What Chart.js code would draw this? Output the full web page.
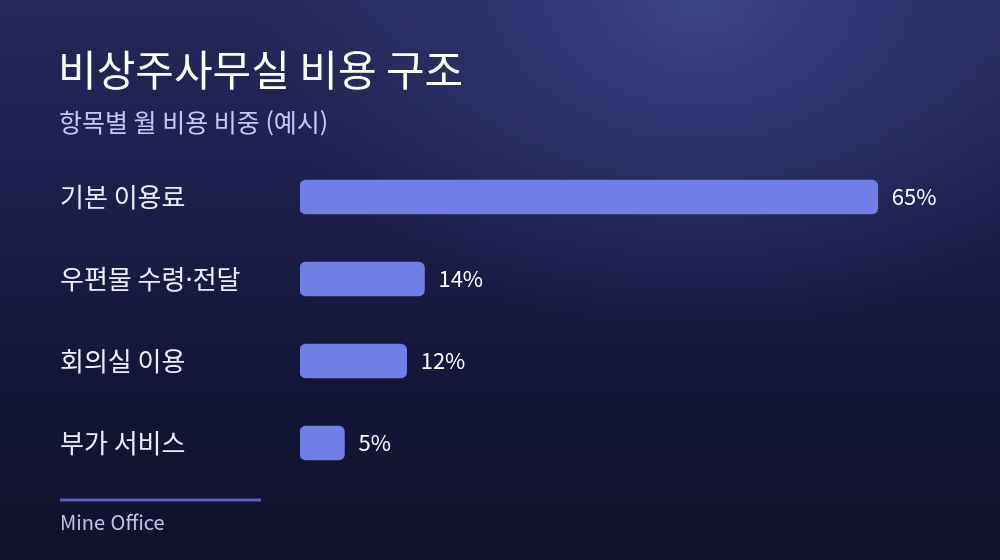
<!DOCTYPE html>
<html lang="ko">
<head>
<meta charset="utf-8">
<script src="https://cdn.jsdelivr.net/npm/chart.js@4"></script>
<style>
  html, body { margin: 0; padding: 0; }
  body {
    width: 1000px; height: 560px; overflow: hidden;
    background:
      radial-gradient(ellipse 60% 80% at 70% 0%, rgba(62, 70, 140, 0.95) 0%, rgba(50, 56, 118, 0.6) 35%, rgba(30, 33, 75, 0) 75%),
      linear-gradient(180deg, #24285b 0%, #1c1f4a 35%, #14163a 65%, #10122a 100%);
  }
  #wrap { position: relative; width: 1000px; height: 560px; }
</style>
</head>
<body>
<div id="wrap"><canvas id="myChart"></canvas></div>
<script>
var categories = ['기본 이용료', '우편물 수령·전달', '회의실 이용', '부가 서비스'];
var shares = [65, 14, 12, 5];

var titleText = '비상주사무실 비용 구조';
var subtitleText = '항목별 월 비용 비중 (예시)';
var sourceText = 'Mine Office';

var FONT = "'Noto Sans CJK KR', 'Noto Sans', sans-serif";

// title, subtitle, footer line and source
var decor = {
    id: 'decor',
    afterDraw: function (chart) {
        var c = chart.ctx;
        c.save();
        c.textAlign = 'left';
        c.textBaseline = 'middle';
        c.fillStyle = '#ffffff';
        c.font = '400 42px ' + FONT;
        c.fillText(titleText, 58, 70);
        c.fillStyle = '#c6caf2';
        c.font = '400 25px ' + FONT;
        c.fillText(subtitleText, 59, 122);
        c.strokeStyle = '#5a60b8';
        c.lineWidth = 3;
        c.beginPath();
        c.moveTo(60, 500);
        c.lineTo(261, 500);
        c.stroke();
        c.fillStyle = '#bfc3ea';
        c.font = '400 20px ' + FONT;
        c.fillText(sourceText, 60, 522);
        c.restore();
    }
};

// percentage labels at the end of each bar
var valueLabels = {
    id: 'valueLabels',
    afterDatasetsDraw: function (chart) {
        var c = chart.ctx;
        var meta = chart.getDatasetMeta(0);
        c.save();
        c.fillStyle = '#ffffff';
        c.font = '400 22px ' + FONT;
        c.textAlign = 'left';
        c.textBaseline = 'middle';
        meta.data.forEach(function (bar, i) {
            c.fillText(shares[i] + '%', bar.x + 14, bar.y);
        });
        c.restore();
    }
};

var ctx = document.getElementById('myChart').getContext('2d');
var myChart = new Chart(ctx, {
    type: 'bar',
    data: {
        labels: categories,
        datasets: [{
            data: shares,
            backgroundColor: '#717ee6',
            borderRadius: 6,
            borderSkipped: false,
            barThickness: 34
        }]
    },
    options: {
        indexAxis: 'y',
        responsive: true,
        maintainAspectRatio: false,
        animation: false,
        layout: {
            padding: { left: 60, right: 60, top: 156, bottom: 76 }
        },
        plugins: {
            legend: { display: false },
            tooltip: { enabled: false }
        },
        scales: {
            x: {
                display: false,
                min: 0,
                max: 72
            },
            y: {
                grid: { display: false },
                border: { display: false },
                ticks: {
                    crossAlign: 'far',
                    padding: 0,
                    color: '#eceef8',
                    font: { family: FONT, size: 26 }
                },
                afterFit: function (axis) { axis.width = 240; }
            }
        }
    },
    plugins: [decor, valueLabels]
});
</script>
</body>
</html>
